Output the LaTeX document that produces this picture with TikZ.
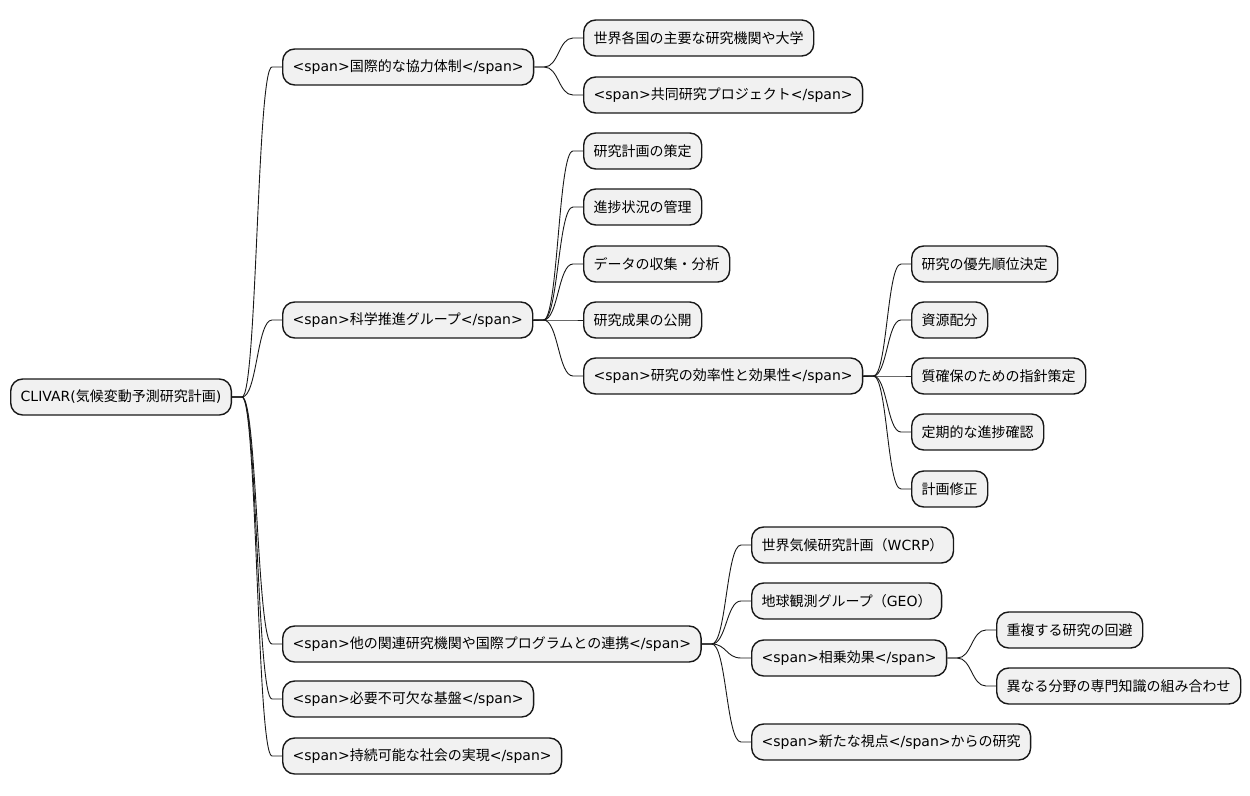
\documentclass[tikz,border=0pt]{standalone}
\usepackage{fontspec}
\setmainfont{DejaVu Sans}
\newfontfamily\jpfont{Noto Sans CJK JP}
% switch to the CJK font for Japanese characters
\newXeTeXintercharclass\jpclass
\makeatletter
\def\setjprange#1#2{\count@=#1\relax
  \loop\XeTeXcharclass\count@=\jpclass
  \ifnum\count@<#2\advance\count@ by 1\repeat}
\setjprange{"3000}{"30FF}
\setjprange{"4E00}{"9FFF}
\setjprange{"FF00}{"FFEF}
\makeatother
\XeTeXinterchartokenstate=1
\XeTeXinterchartoks 0 \jpclass = {\jpfont}
\XeTeXinterchartoks 4095 \jpclass = {\jpfont}
\XeTeXinterchartoks \jpclass 0 = {\rmfamily}
\usepackage{tikz}
\usetikzlibrary{calc}
\definecolor{mmfill}{HTML}{F1F1F1}
\definecolor{mmline}{HTML}{181818}
\tikzset{
  mmnode/.style={draw=mmline, fill=mmfill, line width=1.4pt, rounded corners=12pt, anchor=west, minimum height=36pt, inner xsep=10pt, font=\fontsize{14}{17}\selectfont},
  branchline/.style={draw=mmline, line width=0.9pt},
  branch/.style={to path={let \p1=(\tikztostart), \p2=(\tikztotarget) in
    -- (\x1+10,\y1) .. controls ({(\x1+\x2)/2},\y1) and ({(\x1+\x2)/2},\y2) .. (\x2-10,\y2) -- (\tikztotarget)}}
}
\begin{document}
\begin{tikzpicture}[x=1pt, y=-1pt]
  \useasboundingbox (0,0) rectangle (1250,795);
  % root
  \node[mmnode] (root) at (10,397) {CLIVAR(気候変動予測研究計画)};
  % first level
  \node[mmnode] (intl) at (282,67) {<span>国際的な協力体制</span>};
  \node[mmnode] (sci) at (282,320) {<span>科学推進グループ</span>};
  \node[mmnode] (rel) at (282,644) {<span>他の関連研究機関や国際プログラムとの連携</span>};
  \node[mmnode] (base) at (282,699) {<span>必要不可欠な基盤</span>};
  \node[mmnode] (sust) at (282,756) {<span>持続可能な社会の実現</span>};
  % international cooperation
  \node[mmnode] (intlA) at (583,38) {世界各国の主要な研究機関や大学};
  \node[mmnode] (intlB) at (583,95) {<span>共同研究プロジェクト</span>};
  % science group
  \node[mmnode] (sciA) at (583,151) {研究計画の策定};
  \node[mmnode] (sciB) at (583,207) {進捗状況の管理};
  \node[mmnode] (sciC) at (583,264) {データの収集・分析};
  \node[mmnode] (sciD) at (583,320) {研究成果の公開};
  \node[mmnode] (eff) at (583,376) {<span>研究の効率性と効果性</span>};
  \node[mmnode] (effA) at (911,264) {研究の優先順位決定};
  \node[mmnode] (effB) at (911,320) {資源配分};
  \node[mmnode] (effC) at (911,376) {質確保のための指針策定};
  \node[mmnode] (effD) at (911,432) {定期的な進捗確認};
  \node[mmnode] (effE) at (911,489) {計画修正};
  % related organisations
  \node[mmnode] (relA) at (751,545) {世界気候研究計画（WCRP）};
  \node[mmnode] (relB) at (751,601) {地球観測グループ（GEO）};
  \node[mmnode] (syn) at (751,658) {<span>相乗効果</span>};
  \node[mmnode] (synA) at (996,630) {重複する研究の回避};
  \node[mmnode] (synB) at (996,686) {異なる分野の専門知識の組み合わせ};
  \node[mmnode] (relD) at (751,742) {<span>新たな視点</span>からの研究};
  % branches
  \foreach \c in {intl,sci,rel,base,sust}
    \draw[branchline] (root.east) to[branch] (\c.west);
  \foreach \c in {intlA,intlB}
    \draw[branchline] (intl.east) to[branch] (\c.west);
  \foreach \c in {sciA,sciB,sciC,sciD,eff}
    \draw[branchline] (sci.east) to[branch] (\c.west);
  \foreach \c in {effA,effB,effC,effD,effE}
    \draw[branchline] (eff.east) to[branch] (\c.west);
  \foreach \c in {relA,relB,syn,relD}
    \draw[branchline] (rel.east) to[branch] (\c.west);
  \foreach \c in {synA,synB}
    \draw[branchline] (syn.east) to[branch] (\c.west);
\end{tikzpicture}
\end{document}
